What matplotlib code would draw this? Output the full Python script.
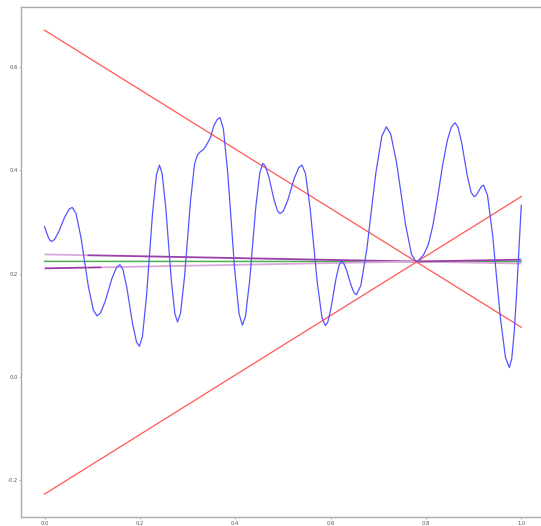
import matplotlib
matplotlib.use("Agg")
import matplotlib.pyplot as plt
from matplotlib.collections import LineCollection

# ---- data ----
wave_x = [0.000, 0.004, 0.008, 0.011, 0.014,
          0.0206, 0.0294, 0.036, 0.0426, 0.0514, 0.058,
          0.0658, 0.0762, 0.084, 0.0918, 0.1022, 0.110,
          0.1172, 0.1268, 0.134, 0.1412, 0.1508, 0.158,
          0.1642, 0.1724, 0.1785, 0.1847, 0.1929, 0.199,
          0.2053, 0.2137, 0.220, 0.2263, 0.2347, 0.241,
          0.2467, 0.2543, 0.260, 0.2657, 0.2733, 0.279,
          0.2853, 0.2937, 0.300, 0.3063, 0.3147, 0.321,
          0.327, 0.333, 0.338, 0.348, 0.355, 0.362, 0.368,
          0.3751, 0.3845, 0.3915, 0.3986, 0.4080, 0.415,
          0.4215, 0.4301, 0.4365, 0.4430, 0.4516, 0.458,
          0.4634, 0.4706, 0.476, 0.4814, 0.4886, 0.494,
          0.5009, 0.5101, 0.517, 0.5239, 0.5331, 0.540,
          0.5474, 0.5572, 0.5645, 0.5719, 0.5817, 0.589,
          0.5941, 0.6009, 0.606, 0.6111, 0.6179, 0.623,
          0.6277, 0.6339, 0.6385, 0.6432, 0.6494, 0.654,
          0.6635, 0.6761, 0.6855, 0.6950, 0.7076, 0.717,
          0.7263, 0.7387, 0.748, 0.7573, 0.7697, 0.779,
          0.785, 0.795, 0.805, 0.815, 0.825, 0.835, 0.845, 0.853, 0.861,
          0.867, 0.875, 0.881, 0.887, 0.895, 0.901,
          0.904, 0.908, 0.911, 0.914, 0.918, 0.921,
          0.9291, 0.9399, 0.948, 0.9561, 0.9669, 0.975,
          0.980, 0.985, 0.990, 0.995, 1.000]
wave_y = [0.291, 0.280, 0.270, 0.265, 0.262,
          0.2656, 0.280, 0.295, 0.310, 0.3244, 0.328,
          0.3166, 0.2707, 0.223, 0.1753, 0.1294, 0.118,
          0.1234, 0.145, 0.1675, 0.190, 0.2116, 0.217,
          0.2084, 0.1739, 0.138, 0.1021, 0.0676, 0.059,
          0.0781, 0.1548, 0.2345, 0.3142, 0.3909, 0.410,
          0.3934, 0.327, 0.258, 0.189, 0.1226, 0.106,
          0.1237, 0.1945, 0.268, 0.3415, 0.4123, 0.430,
          0.436, 0.440, 0.446, 0.463, 0.486, 0.498, 0.502,
          0.4801, 0.3923, 0.301, 0.2097, 0.1219, 0.100,
          0.1171, 0.1854, 0.2565, 0.3276, 0.3959, 0.413,
          0.4077, 0.3865, 0.3645, 0.3425, 0.3213, 0.316,
          0.3211, 0.3417, 0.363, 0.3843, 0.4049, 0.410,
          0.3931, 0.3251, 0.2545, 0.1839, 0.1159, 0.099,
          0.1058, 0.1329, 0.161, 0.1891, 0.2162, 0.223,
          0.2195, 0.2055, 0.191, 0.1765, 0.1625, 0.159,
          0.1767, 0.2477, 0.3215, 0.3953, 0.4663, 0.484,
          0.4698, 0.4127, 0.3535, 0.2943, 0.2372, 0.223,
          0.226, 0.236, 0.256, 0.295, 0.350, 0.410, 0.458, 0.483, 0.492,
          0.4842, 0.453, 0.4205, 0.388, 0.3568, 0.349,
          0.3502, 0.355, 0.360, 0.365, 0.3698, 0.371,
          0.3518, 0.2746, 0.1945, 0.1144, 0.0372, 0.018,
          0.035, 0.084, 0.158, 0.245, 0.332]

line_x = [0.0, 1.0]
red_down_y = [0.671, 0.096]
red_up_y = [-0.227, 0.349]
green_y = [0.2235, 0.2232]

purple_x = [0.0, 0.09, 0.12, 0.779, 1.0]
purple_a_y = [0.2370, 0.2354, 0.2349, 0.2232, 0.2193]   # starts on top
purple_b_y = [0.2100, 0.2115, 0.2120, 0.2232, 0.2268]   # starts below

x_ticks = [0.0, 0.2, 0.4, 0.6, 0.8, 1.0]
x_tick_labels = ["0.0", "0.2", "0.4", "0.6", "0.8", "1.0"]
y_ticks = [-0.2, 0.0, 0.2, 0.4, 0.6]
y_tick_labels = ["-0.2", "0.0", "0.2", "0.4", "0.6"]

# ---- figure ----
fig = plt.figure(figsize=(5.41, 5.26), dpi=100)
ax = fig.add_axes([0.0383, 0.0165, 0.9693, 0.9702])

red = "#ff5555"
ax.plot(line_x, red_down_y, color=red, lw=0.9, zorder=3)
ax.plot(line_x, red_up_y, color=red, lw=0.9, zorder=3)
ax.plot(wave_x, wave_y, color="#5555ff", lw=0.9, zorder=4,
        solid_joinstyle="round")
ax.plot(line_x, green_y, color="#4caf50", lw=1.1, zorder=2)

dark = "#9b3fa8"
light = "#d9a8d9"


def seg_line(xs, ys, cols):
    segs = [[(xs[i], ys[i]), (xs[i + 1], ys[i + 1])] for i in range(len(xs) - 1)]
    ax.add_collection(LineCollection(segs, colors=cols, linewidths=1.3, zorder=2))


seg_line(purple_x, purple_a_y, [light, dark, dark, light])
seg_line(purple_x, purple_b_y, [dark, dark, light, dark])

ax.set_xlim(-0.05, 1.05)
ax.set_ylim(-0.272, 0.716)
ax.set_xticks(x_ticks)
ax.set_yticks(y_ticks)
ax.set_xticklabels(x_tick_labels)
ax.set_yticklabels(y_tick_labels)
ax.tick_params(axis="both", labelsize=3.8, colors="#555555", length=1.5,
               width=0.6, pad=0.8, color="#aaaaaa")

for side in ["left", "bottom", "top", "right"]:
    ax.spines[side].set_color("#aaaaaa")
    ax.spines[side].set_linewidth(1.0)

fig.savefig("out.png", dpi=100)
